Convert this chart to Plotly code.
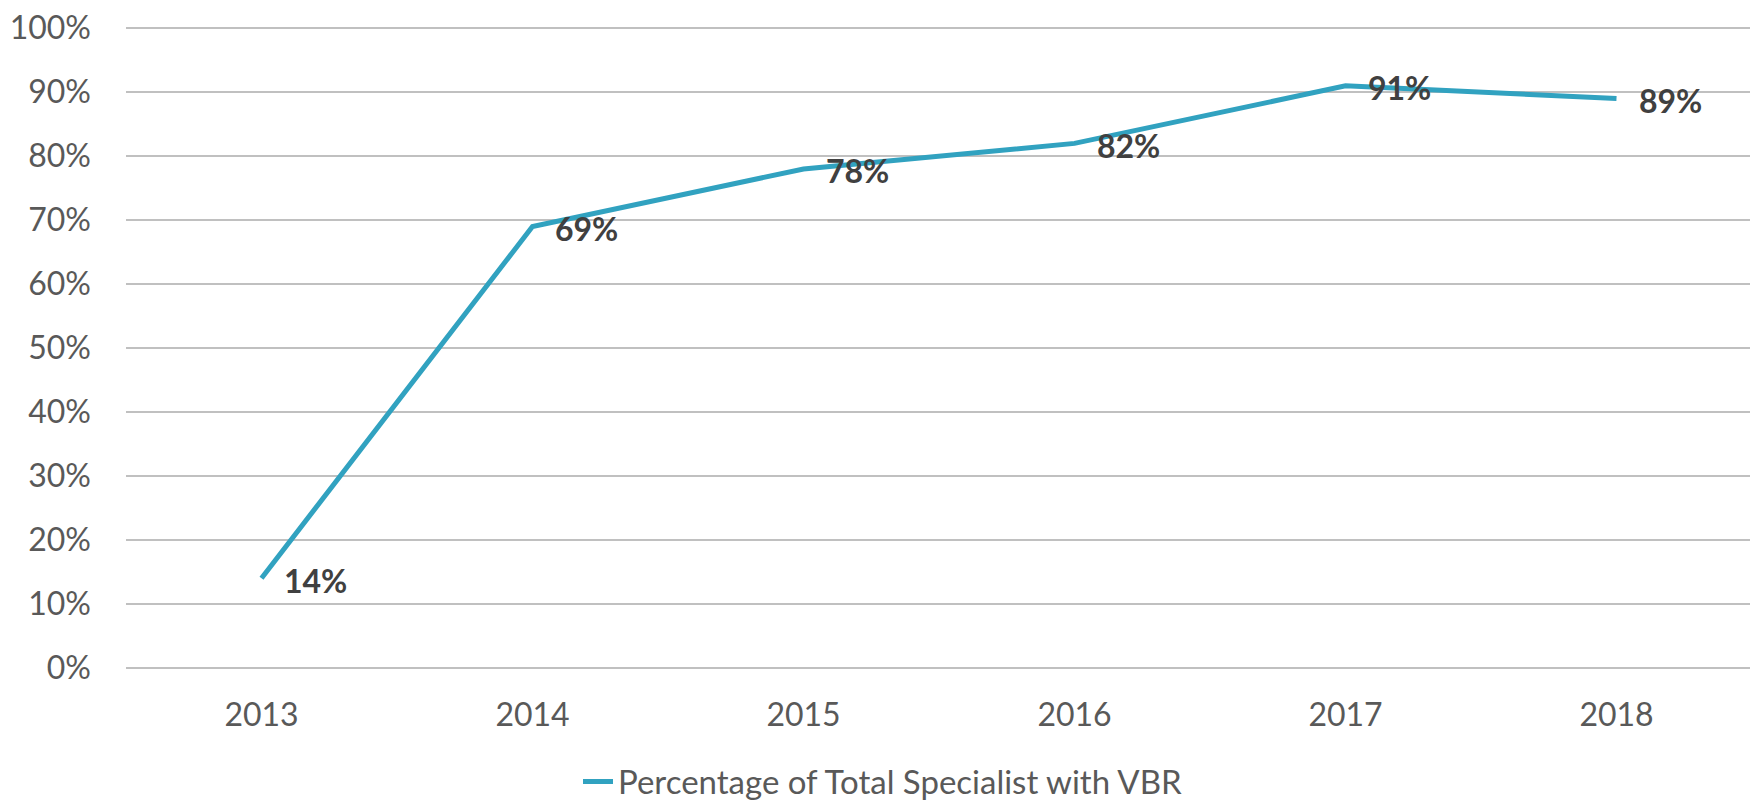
import plotly.graph_objects as go

years = ["2013", "2014", "2015", "2016", "2017", "2018"]
vbr_pct = [14, 69, 78, 82, 91, 89]
label_text = ["14%", "69%", "78%", "82%", "91%", "89%"]
y_ticks = [0, 10, 20, 30, 40, 50, 60, 70, 80, 90, 100]
y_tick_text = ["0%", "10%", "20%", "30%", "40%", "50%", "60%", "70%", "80%", "90%", "100%"]

line_color = "#31A2C0"
font_name = "Lato"

fig = go.Figure()
fig.add_trace(go.Scatter(
    x=years, y=vbr_pct, mode="lines",
    name="Percentage of Total Specialist with VBR",
    line=dict(color=line_color, width=5),
))

# data labels right of each point (x as category index, "2013" would be read as a number)
for i, (v, t) in enumerate(zip(vbr_pct, label_text)):
    fig.add_annotation(x=i, y=v, xref="x", yref="y", text=t, showarrow=False,
                       xanchor="left", yanchor="middle", xshift=20, yshift=-2,
                       font=dict(family=font_name, size=32, color="#404040", weight="bold"))

# page body has an 8px margin, so the figure is 8px smaller and margins shifted
fig.update_layout(
    width=1750, height=795,
    paper_bgcolor="white", plot_bgcolor="white",
    margin=dict(l=118, r=6, t=19, b=134, autoexpand=False),
    font=dict(family=font_name, color="#595959"),
    showlegend=True,
    legend=dict(orientation="h", xref="container", yref="container", x=0.5, y=0.027,
                xanchor="center", yanchor="middle",
                font=dict(family=font_name, size=33, color="#595959"),
                itemwidth=30),
)
fig.update_xaxes(type="category", range=[-0.5, 5.5], showgrid=False, showline=False,
                 zeroline=False, ticks="", tickfont=dict(size=32, color="#595959"),
                 ticklabelstandoff=24, automargin=False)
fig.update_yaxes(range=[-0.2, 100.2], tickvals=y_ticks, ticktext=y_tick_text, showgrid=True,
                 gridcolor="#C0C0C0", gridwidth=2, zeroline=False, showline=False, ticks="",
                 tickfont=dict(size=32, color="#595959"), ticklabelstandoff=34,
                 ticklabeloverflow="allow", automargin=False)

fig.write_html("out.html")
